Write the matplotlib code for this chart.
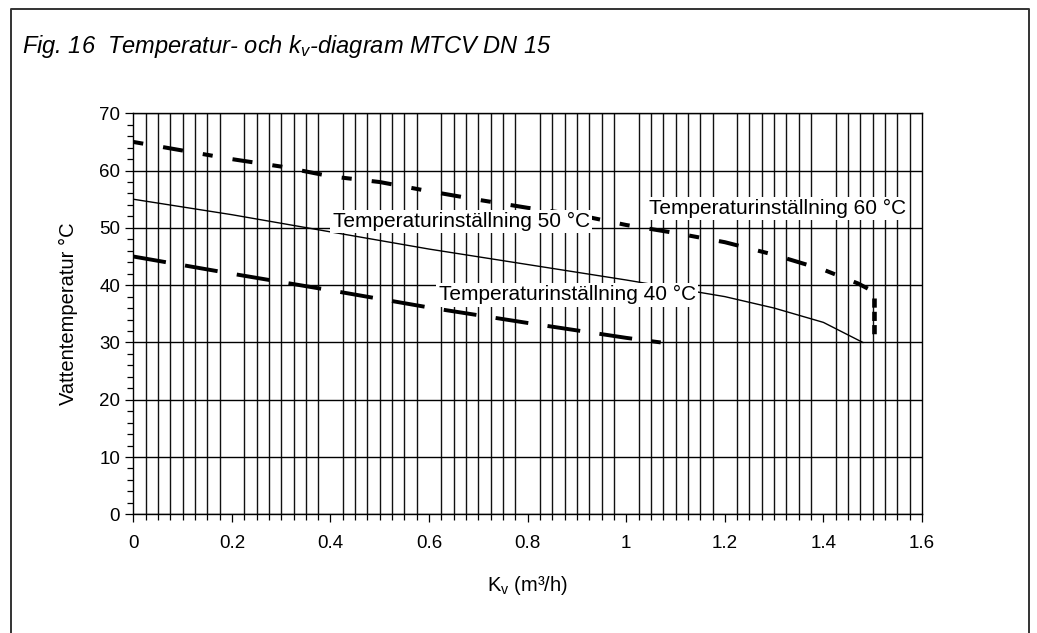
import matplotlib.pyplot as plt
import numpy as np
from matplotlib.lines import Line2D

plt.rcParams['font.family'] = ['Liberation Sans', 'DejaVu Sans']
plt.rcParams['mathtext.fontset'] = 'custom'
plt.rcParams['mathtext.rm'] = 'Liberation Sans'
plt.rcParams['mathtext.it'] = 'Liberation Sans:italic'

# Temperaturinställning 60 °C
kv_60 = [0, 0.1, 0.2, 0.3, 0.4, 0.5, 0.6, 0.7, 0.8, 0.9, 1.0, 1.1, 1.2, 1.3, 1.4, 1.47, 1.49]
t_60 = [65, 63.5, 62, 60.7, 59, 58, 56.4, 54.9, 53.5, 52.3, 50.5, 49.1, 47.5, 45.3, 42.7, 40.3, 39.4]
kv_60_end = [1.503, 1.503]
t_60_end = [37.7, 31.1]
# Temperaturinställning 50 °C
kv_50 = [0, 0.2, 0.4, 0.6, 0.8, 1.0, 1.2, 1.3, 1.4, 1.48]
t_50 = [55, 52.3, 49.3, 46.3, 43.6, 40.9, 38, 36, 33.5, 30]
# Temperaturinställning 40 °C
kv_40 = [0, 0.2, 0.4, 0.6, 0.8, 1.0, 1.07]
t_40 = [45, 42, 39.1, 36.1, 33.4, 30.8, 30]

labels = ['Temperaturinställning 60 °C', 'Temperaturinställning 50 °C', 'Temperaturinställning 40 °C']
label_pos = [(1.307, 53.4), (0.665, 51.1), (0.880, 38.3)]

fig = plt.figure(figsize=(10.37, 6.33), dpi=100)
ax = fig.add_axes([133.3 / 1037, 1 - 514.3 / 633, (922 - 133.3) / 1037, (514.3 - 113.3) / 633])

ax.set_xlim(0, 1.6)
ax.set_ylim(0, 70)
ax.set_xticks(np.arange(0, 1.61, 0.2))
ax.set_xticks(np.arange(0, 1.601, 0.025), minor=True)
ax.set_yticks(np.arange(0, 71, 10))
ax.set_yticks(np.arange(0, 71, 2), minor=True)
ax.set_xticklabels(['0', '0.2', '0.4', '0.6', '0.8', '1', '1.2', '1.4', '1.6'])
ax.grid(True, which='major', axis='y', color='black', lw=1.0)
ax.grid(True, which='minor', axis='x', color='#111111', lw=1.0)
ax.tick_params(axis='both', which='major', labelsize=13.5, length=6, width=0.9, direction='out')
ax.tick_params(axis='both', which='minor', length=4, width=0.9, direction='out')
ax.tick_params(axis='x', pad=9)
for s in ax.spines.values():
    s.set_linewidth(1.0)
ax.set_axisbelow(True)

ax.plot(kv_60, t_60, color='black', lw=2.9, dashes=(2.5, 5, 5, 5), dash_capstyle='butt')
ax.plot(kv_60_end, t_60_end, color='black', lw=3.3, dashes=(2.0, 0.9), dash_capstyle='butt')
ax.plot(kv_50, t_50, color='black', lw=1.0)
ax.plot(kv_40, t_40, color='black', lw=2.8, dashes=(8.5, 5), dash_capstyle='butt')

for txt, (x, y) in zip(labels, label_pos):
    ax.text(x, y, txt, ha='center', va='center', fontsize=15,
            bbox=dict(facecolor='white', edgecolor='none', pad=1.5), zorder=5)

ax.set_xlabel('K$_\\mathrm{v}$ (m³/h)', fontsize=14.5, labelpad=16)
ax.set_ylabel('Vattentemperatur °C', fontsize=14.5, labelpad=15)

fig.text(22 / 1037, 1 - 46 / 633, 'Fig. 16  Temperatur- och k$_v$-diagram MTCV DN 15',
         fontsize=17, style='italic', ha='left', va='center')

# outer frame
fx0, fx1, fy = 11 / 1037, 1029 / 1037, 1 - 9 / 633
fig.add_artist(Line2D([fx0, fx0, fx1, fx1], [0, fy, fy, 0], transform=fig.transFigure, color='#333333', lw=1.4))

fig.savefig('out.png', dpi=100)
